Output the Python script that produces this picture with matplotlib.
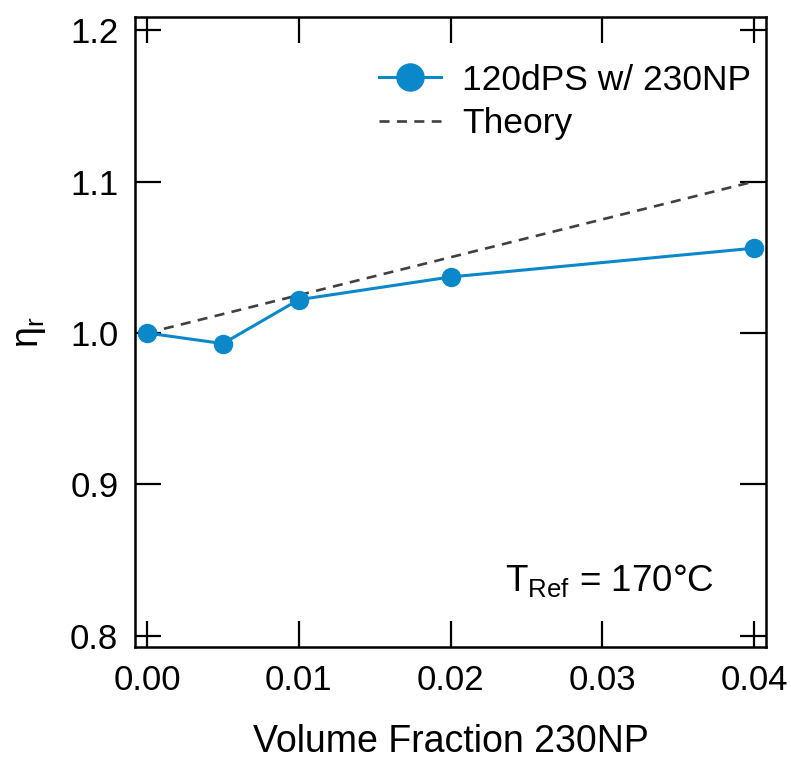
import numpy as np
import matplotlib
matplotlib.use('Agg')
import matplotlib.pyplot as plt

# data
phi = [0.0, 0.005, 0.01, 0.02, 0.04]
eta_r = [1.000, 0.993, 1.022, 1.037, 1.056]
theory_phi = [0.0, 0.04]
theory_eta = [1.0, 1.1]

xticks = [0.0, 0.01, 0.02, 0.03, 0.04]
xticklabels = ['0.00', '0.01', '0.02', '0.03', '0.04']
yticks = [0.8, 0.9, 1.0, 1.1, 1.2]
yticklabels = ['0.8', '0.9', '1.0', '1.1', '1.2']

plt.rcParams['font.family'] = ['Liberation Sans', 'DejaVu Sans']
plt.rcParams['mathtext.fontset'] = 'custom'
plt.rcParams['mathtext.rm'] = 'Liberation Sans'
plt.rcParams['mathtext.it'] = 'Liberation Sans:italic'
plt.rcParams['mathtext.bf'] = 'Liberation Sans:bold'

fig = plt.figure(figsize=(7.91, 7.63), dpi=100)
ax = fig.add_axes([0.1707, 0.152, 0.7977, 0.8257])

blue = '#0a88c9'
ax.plot(phi, eta_r, '-o', color=blue, lw=2.2, ms=13, label='120dPS w/ 230NP', zorder=3)
ax.plot(theory_phi, theory_eta, '--', color='#404040', lw=1.9, dashes=(3.8, 2.8), label='Theory', zorder=2)

ax.set_xlim(-0.00079, 0.04079)
ax.set_ylim(0.7927, 1.2086)

ax.set_xticks(xticks)
ax.set_xticklabels(xticklabels)
ax.set_yticks(yticks)
ax.set_yticklabels(yticklabels)

ax.tick_params(direction='in', length=19, width=1.6, top=True, right=True,
               labelsize=25, pad=12)
for s in ax.spines.values():
    s.set_linewidth(1.8)

ax.set_xlabel('Volume Fraction 230NP', fontsize=27, labelpad=20)
ax.set_ylabel(r'$\mathregular{\eta_r}$', fontsize=27, labelpad=16)

ax.text(0.0236, 0.8298, r'T$_{\mathregular{Ref}}$ = 170°C', fontsize=26.5, va='baseline')

leg = ax.legend(loc='upper right', frameon=False, fontsize=25.5, markerscale=1.5,
                handlelength=1.75, handletextpad=0.6, labelspacing=0.3,
                borderaxespad=0.3, bbox_to_anchor=(1.016, 0.965))

fig.savefig('out.png', dpi=100)
